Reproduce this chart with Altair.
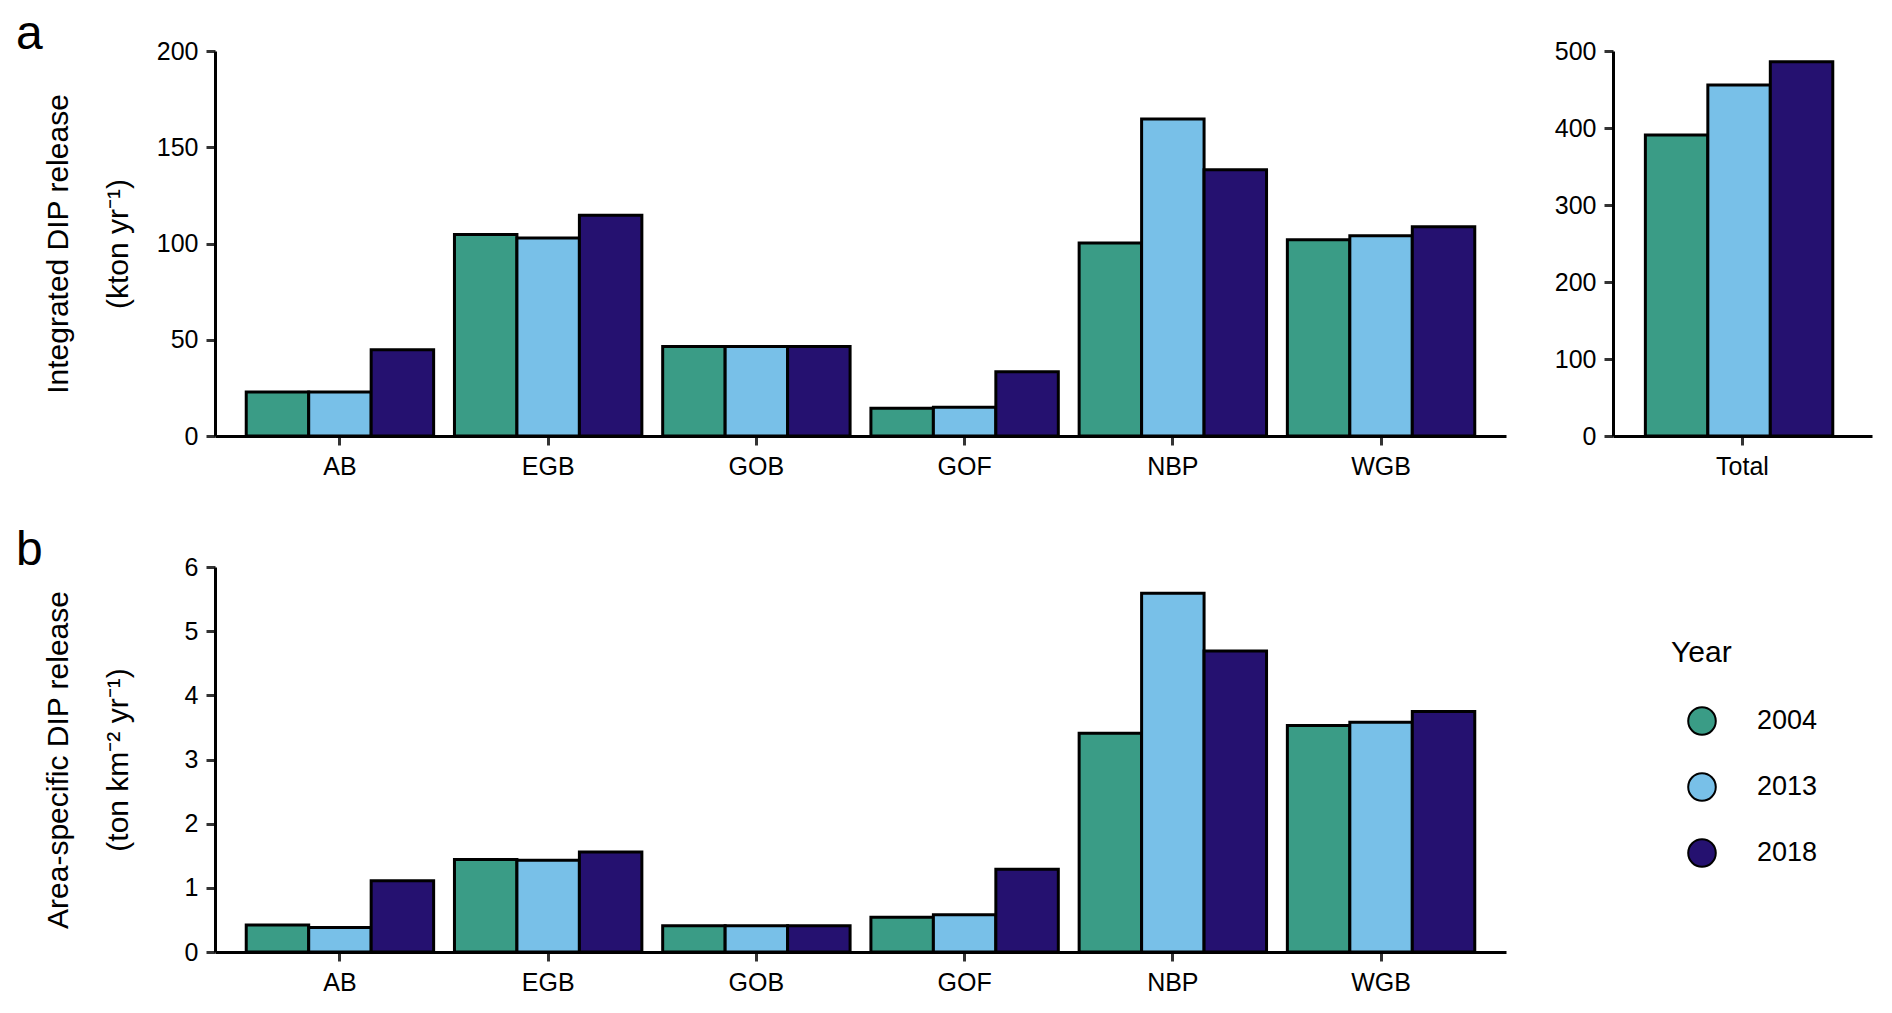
import altair as alt
import pandas as pd

regions = ["AB", "EGB", "GOB", "GOF", "NBP", "WGB"]
years = ["2004", "2013", "2018"]
colors = ["#3A9C86", "#78C0E8", "#251170"]

integrated_2004 = [22.9, 104.7, 46.5, 14.4, 100.3, 102.0]
integrated_2013 = [22.9, 102.8, 46.5, 15.0, 164.7, 104.0]
integrated_2018 = [44.8, 114.7, 46.5, 33.4, 138.3, 108.7]

total_labels = ["Total"]
total_values = [391.0, 455.8, 486.0]

area_2004 = [0.42, 1.44, 0.41, 0.54, 3.41, 3.53]
area_2013 = [0.38, 1.43, 0.41, 0.58, 5.59, 3.58]
area_2018 = [1.11, 1.56, 0.41, 1.29, 4.69, 3.75]

FONT = "Liberation Sans"


def long_df(series):
    rows = []
    for y, vals in zip(years, series):
        for r, v in zip(regions, vals):
            rows.append({"Region": r, "Year": y, "Value": v})
    return pd.DataFrame(rows)


df_int = long_df([integrated_2004, integrated_2013, integrated_2018])
df_area = long_df([area_2004, area_2013, area_2018])
df_tot = pd.DataFrame({"Region": total_labels * 3, "Year": years, "Value": total_values})

color = alt.Color(
    "Year:N",
    sort=years,
    scale=alt.Scale(domain=years, range=colors),
    legend=alt.Legend(
        orient="none",
        legendX=1456,
        legendY=587,
        title="Year",
        titleFontSize=30,
        titleFont=FONT,
        titleFontWeight="normal",
        titleColor="black",
        titlePadding=38,
        labelFontSize=27,
        labelFont=FONT,
        labelColor="black",
        labelOffset=40,
        symbolType="circle",
        symbolSize=760,
        symbolStrokeColor="black",
        symbolStrokeWidth=2,
        symbolOpacity=1,
        symbolOffset=16,
        rowPadding=30,
        padding=0,
    ),
)

xoff = alt.XOffset("Year:N", sort=years, scale=alt.Scale(paddingInner=0, paddingOuter=0))


def xenc(sort):
    return alt.X(
        "Region:N",
        sort=sort,
        title=None,
        scale=alt.Scale(paddingInner=0.1, paddingOuter=0.15),
        axis=alt.Axis(labelAngle=0, labelPadding=9),
    )


def yenc(domain, values, title):
    return alt.Y(
        "Value:Q",
        scale=alt.Scale(domain=domain, nice=False, zero=True),
        axis=alt.Axis(
            values=values,
            title=title,
            titleLineHeight=60,
            titlePadding=22,
            minExtent=60,
            maxExtent=60,
            labelPadding=8,
        ),
    )


bar = dict(stroke="black", strokeWidth=3)


def panel_title(letter):
    return alt.TitleParams(
        letter, anchor="start", frame="group", fontSize=48, font=FONT,
        fontWeight="normal", color="black", dx=-199, dy=20, offset=0)


panel_a = (
    alt.Chart(df_int, title=panel_title("a"))
    .mark_bar(**bar)
    .encode(
        x=xenc(regions),
        xOffset=xoff,
        y=yenc([0, 200], [0, 50, 100, 150, 200], ["Integrated DIP release", "(kton yr\u207b\u00b9)"]),
        color=color,
    )
    .properties(width=1291, height=385)
)

panel_total = (
    alt.Chart(df_tot)
    .mark_bar(**bar)
    .encode(
        x=xenc(total_labels),
        xOffset=xoff,
        y=yenc([0, 500], [0, 100, 200, 300, 400, 500], None),
        color=color,
    )
    .properties(width=259, height=385)
)

panel_b = (
    alt.Chart(df_area, title=panel_title("b"))
    .mark_bar(**bar)
    .encode(
        x=xenc(regions),
        xOffset=xoff,
        y=yenc([0, 6], [0, 1, 2, 3, 4, 5, 6], ["Area-specific DIP release", "(ton km\u207b\u00b2 yr\u207b\u00b9)"]),
        color=color,
    )
    .properties(width=1291, height=385)
)

chart = (
    alt.ConcatChart(
        concat=[panel_a, panel_total, panel_b],
        columns=2,
        spacing={"row": 131, "column": 107},
        bounds="flush",
    )
    .properties(padding={"left": 8, "top": 3, "right": 5, "bottom": 5}, background="white")
    .configure_view(stroke=None)
    .configure_axis(
        domainColor="black",
        domainWidth=3,
        tickColor="#333333",
        tickWidth=3,
        tickSize=9,
        grid=False,
        labelFont=FONT,
        labelFontSize=25,
        labelColor="black",
        titleFont=FONT,
        titleFontSize=30,
        titleFontWeight="normal",
        titleColor="black",
    )
)

chart.save("out.html", embed_options={"renderer": "svg", "actions": False})
